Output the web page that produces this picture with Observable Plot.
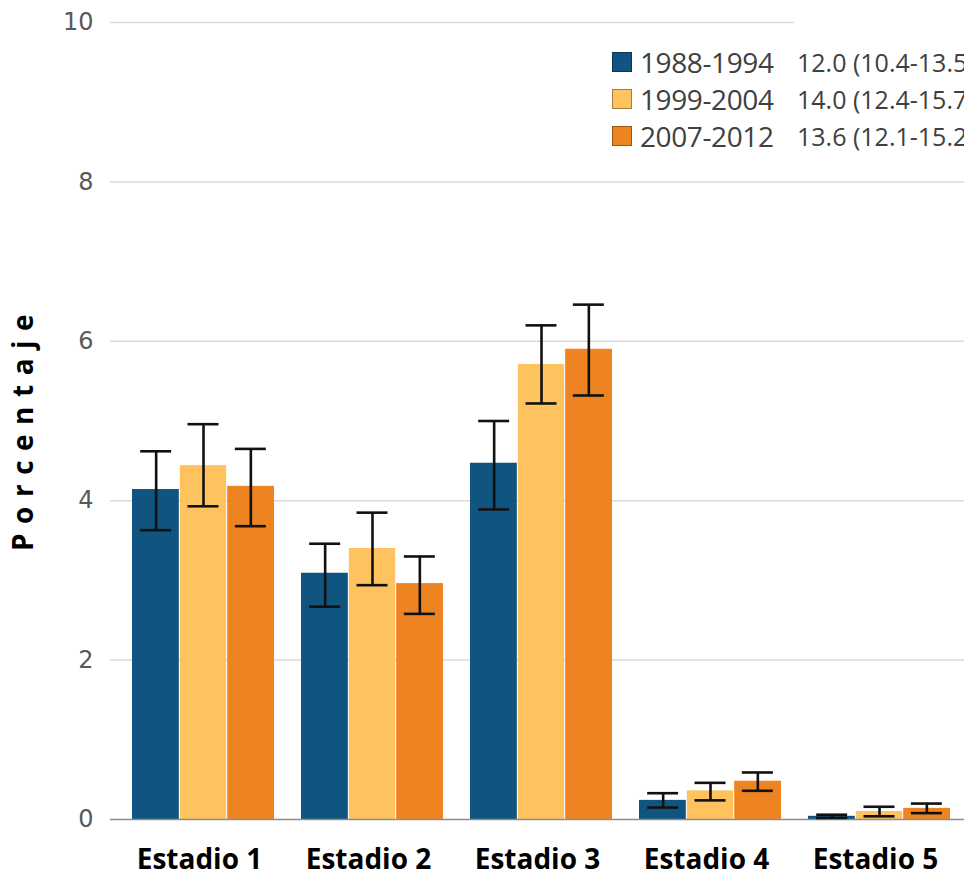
<!DOCTYPE html>
<html>
<head>
<meta charset="utf-8">
<script src="https://cdn.jsdelivr.net/npm/d3@7"></script>
<script src="https://cdn.jsdelivr.net/npm/@observablehq/plot@0.6"></script>
<style>
  html, body { margin: 0; padding: 0; background: #fff; }
  #wrap { position: relative; width: 964px; height: 877px; overflow: hidden; }
  #legend { position: absolute; left: 612px; top: 0; width: 400px; font-family: "Open Sans", sans-serif; color: #404040; }
  .row { position: absolute; left: 0; height: 30px; display: flex; align-items: center; white-space: nowrap; }
  .sw { width: 20px; height: 20px; box-sizing: border-box; border: 1px solid rgba(0,0,0,0.35); }
  .lab { position: absolute; left: 28px; font-size: 28px; letter-spacing: -0.4px; }
  .val { position: absolute; left: 185px; font-size: 25px; }
</style>
</head>
<body>
<div id="wrap"><div id="chart"></div><div id="legend"></div></div>
<script>
const stages = ["Estadio 1", "Estadio 2", "Estadio 3", "Estadio 4", "Estadio 5"];
const periods = ["1988-1994", "1999-2004", "2007-2012"];
const colors = ["#0f5580", "#fec35f", "#ee8421"];

const v1988 = [4.14, 3.09, 4.47, 0.24, 0.04];
const lo1988 = [3.63, 2.67, 3.89, 0.15, 0.02];
const hi1988 = [4.62, 3.46, 5.00, 0.33, 0.06];

const v1999 = [4.44, 3.40, 5.71, 0.36, 0.10];
const lo1999 = [3.93, 2.94, 5.22, 0.24, 0.04];
const hi1999 = [4.96, 3.85, 6.20, 0.46, 0.16];

const v2007 = [4.18, 2.96, 5.90, 0.48, 0.14];
const lo2007 = [3.68, 2.58, 5.32, 0.36, 0.08];
const hi2007 = [4.65, 3.30, 6.46, 0.59, 0.20];

const legendValues = ["12.0 (10.4-13.5)", "14.0 (12.4-15.7)", "13.6 (12.1-15.2)"];
const yTicks = [0, 2, 4, 6, 8, 10];
const yLabel = "Porcentaje";

const series = [[v1988, lo1988, hi1988], [v1999, lo1999, hi1999], [v2007, lo2007, hi2007]];
const rows = [];
series.forEach(([v, lo, hi], p) => {
  stages.forEach((s, i) => rows.push({stage: s, period: periods[p], p, value: v[i], lo: lo[i], hi: hi[i]}));
});

// band geometry
const xRange = [117.3, 964.7];
const padIn = 0.162, padOut = 0.081;
const step = (xRange[1] - xRange[0]) / (stages.length - padIn + 2 * padOut);
const bw = step * (1 - padIn);
const third = bw / 3;
const capW = 31;

const marks = [
  Plot.ruleY(yTicks.filter(t => t > 0 && t < 10), {stroke: "#d9d9d9", strokeWidth: 1.5}),
  Plot.ruleY([10], {stroke: "#d9d9d9", strokeWidth: 1.5, insetRight: 170}),
];
periods.forEach((per, p) => {
  const data = rows.filter(d => d.p === p);
  marks.push(Plot.barY(data, {x: "stage", y: "value", fill: "period",
    insetLeft: p * third + (p > 0 ? 0.5 : 0), insetRight: (2 - p) * third + (p < 2 ? 0.5 : 0)}));
});
marks.push(Plot.ruleY([0], {stroke: "#8c8c8c", strokeWidth: 1.5}));
periods.forEach((per, p) => {
  const data = rows.filter(d => d.p === p);
  const off = (p - 1) * third;
  marks.push(Plot.ruleX(data, {x: "stage", y1: "lo", y2: "hi", dx: off, stroke: "#111", strokeWidth: 2.6}));
  marks.push(Plot.tickY(data, {x: "stage", y: "lo", dx: off, insetLeft: (bw - capW) / 2, insetRight: (bw - capW) / 2, stroke: "#111", strokeWidth: 2.6}));
  marks.push(Plot.tickY(data, {x: "stage", y: "hi", dx: off, insetLeft: (bw - capW) / 2, insetRight: (bw - capW) / 2, stroke: "#111", strokeWidth: 2.6}));
});
marks.push(Plot.axisY(yTicks, {tickSize: 0, tickPadding: 17, tickFormat: d3.format("d"), fontSize: 24, fill: "#595959", fontFamily: "DejaVu Sans", label: null}));
marks.push(Plot.axisX({tickSize: 0, tickPadding: 30, dx: -4, fontSize: 28, fontWeight: "bold", fill: "#000", fontFamily: "Open Sans", label: null}));
marks.push(Plot.text([yLabel], {frameAnchor: "left", textAnchor: "start", rotate: -90, dx: -86, dy: 130, fontSize: 28, fontWeight: "bold", fontFamily: "Open Sans", fill: "#000"}));

const chart = Plot.plot({
  width: 964, height: 877,
  marginTop: 22, marginBottom: 58, marginLeft: 110, marginRight: 0,
  style: {background: "#fff", fontFamily: "DejaVu Sans", overflow: "visible"},
  x: {domain: stages, range: xRange, paddingInner: padIn, paddingOuter: padOut, axis: null},
  y: {domain: [0, 10], axis: null},
  color: {domain: periods, range: colors},
  marks
});
d3.select(chart).selectAll("text").filter(function() { return this.textContent === yLabel; })
  .style("letter-spacing", "9.5px");
document.getElementById("chart").appendChild(chart);

const legend = d3.select("#legend");
const centers = [62, 99, 136];
periods.forEach((per, p) => {
  const row = legend.append("div").attr("class", "row").style("top", (centers[p] - 15) + "px");
  row.append("div").attr("class", "sw").style("background", colors[p]);
  row.append("div").attr("class", "lab").text(per);
  row.append("div").attr("class", "val").text(legendValues[p]);
});
</script>
</body>
</html>
